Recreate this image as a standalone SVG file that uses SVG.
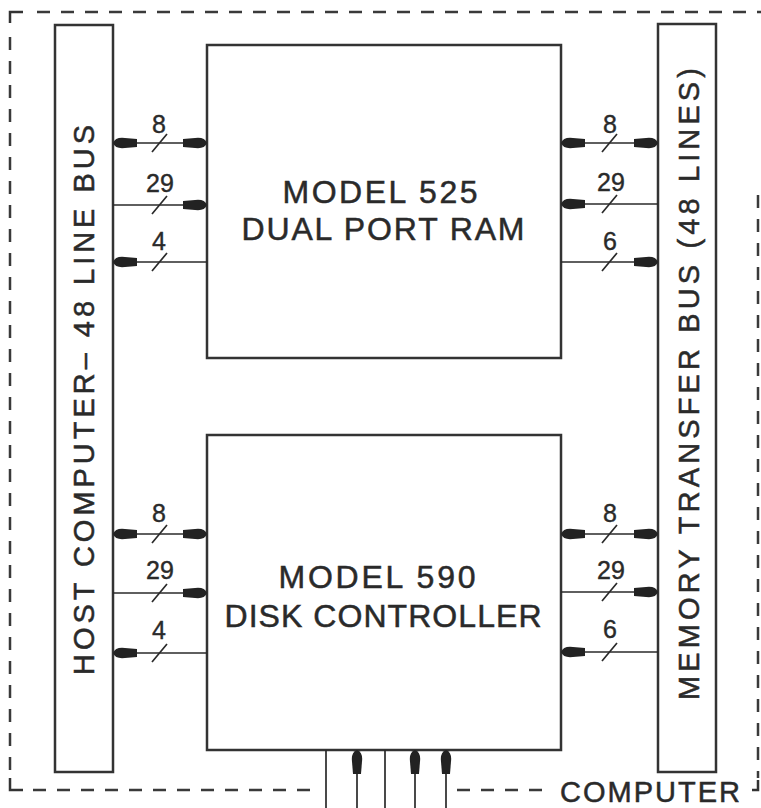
<svg xmlns="http://www.w3.org/2000/svg" width="761" height="808" viewBox="0 0 761 808">
<style>
.frame{fill:none;stroke:#333;stroke-width:2.5}
.dash{fill:none;stroke:#3a3a3a;stroke-width:2.5;stroke-dasharray:13 11}
.ln{fill:none;stroke:#2a2a2a;stroke-width:1.7}
.sl{fill:none;stroke:#2a2a2a;stroke-width:1.7}
.big{font-family:"Liberation Sans",Arial,sans-serif;font-size:32px;fill:#2a2a2a;stroke:#2a2a2a;stroke-width:0.5;text-anchor:middle}
.bus{font-family:"Liberation Sans",Arial,sans-serif;font-size:29px;fill:#2a2a2a;stroke:#2a2a2a;stroke-width:0.5;text-anchor:middle}
.num{font-family:"Liberation Sans",Arial,sans-serif;font-size:25px;fill:#2a2a2a;stroke:#2a2a2a;stroke-width:0.4;text-anchor:middle}
.one{marker-end:url(#ah)}
.two{marker-start:url(#ah);marker-end:url(#ah)}
</style>
<defs>
<marker id="ah" viewBox="0 -6 24 12" refX="24" refY="0" markerWidth="24" markerHeight="12" markerUnits="userSpaceOnUse" orient="auto-start-reverse">
<path d="M24,0 Q22,-5.2 15,-5.2 L0,-4 L0,4 L15,5.2 Q22,5.2 24,0 Z" fill="#222"/>
</marker>
</defs>
<rect width="761" height="808" fill="#fff"/>
<g id="boundary">
<path class="frame" d="M10,23 L10,12 L23,12"/>
<path class="dash" d="M37,12 L761,12"/>
<path class="dash" d="M10,37 L10,776"/>
<path class="frame" d="M10,778 L10,790 L23,790"/>
<path class="dash" d="M33,790 L316,790"/>
<path class="dash" d="M457,790 L545,790"/>
<path class="dash" d="M758,195 L758,778"/>
<path class="frame" d="M752,790 L758,790 L758,780"/>
<text class="bus" x="650" y="802" textLength="180" lengthAdjust="spacing">COMPUTER</text>
</g>
<g id="host-bus">
<rect class="frame" x="55" y="25" width="58" height="747"/>
<text class="bus" transform="translate(94,400) rotate(-90)" textLength="550" lengthAdjust="spacing">HOST COMPUTER– 48 LINE BUS</text>
</g>
<g id="memory-bus">
<rect class="frame" x="658" y="24" width="58" height="748"/>
<text class="bus" transform="translate(699,384) rotate(-90)" textLength="632" lengthAdjust="spacing">MEMORY TRANSFER BUS  (48 LINES)</text>
</g>
<g id="ram">
<rect class="frame" x="207" y="45" width="354" height="313"/>
<text class="big" x="380" y="203" textLength="195" lengthAdjust="spacing">MODEL  525</text>
<text class="big" x="383" y="240" textLength="283" lengthAdjust="spacing">DUAL  PORT  RAM</text>
</g>
<g id="disk">
<rect class="frame" x="207" y="435" width="354" height="315"/>
<text class="big" x="377" y="588" textLength="197" lengthAdjust="spacing">MODEL  590</text>
<text class="big" x="383" y="627" textLength="317" lengthAdjust="spacing">DISK  CONTROLLER</text>
</g>
<g id="connectors">
<line class="ln two" x1="113" y1="143" x2="207" y2="143"/>
<line class="ln one" x1="113" y1="205" x2="207" y2="205"/>
<line class="ln one" x1="207" y1="262" x2="113" y2="262"/>
<line class="ln two" x1="561" y1="143" x2="658" y2="143"/>
<line class="ln one" x1="658" y1="204" x2="561" y2="204"/>
<line class="ln one" x1="561" y1="262" x2="658" y2="262"/>
<line class="ln two" x1="113" y1="534" x2="207" y2="534"/>
<line class="ln one" x1="113" y1="593" x2="207" y2="593"/>
<line class="ln one" x1="207" y1="653" x2="113" y2="653"/>
<line class="ln two" x1="561" y1="534" x2="658" y2="534"/>
<line class="ln one" x1="561" y1="592" x2="658" y2="592"/>
<line class="ln one" x1="658" y1="652" x2="561" y2="652"/>
<line class="ln" x1="326" y1="750" x2="326" y2="808"/>
<line class="ln one" x1="357" y1="808" x2="357" y2="750"/>
<line class="ln" x1="385" y1="750" x2="385" y2="808"/>
<line class="ln one" x1="415" y1="808" x2="415" y2="750"/>
<line class="ln one" x1="446" y1="808" x2="446" y2="750"/>
<path class="sl" d="M152,152 L167,134 M152,214 L167,196 M152,271 L167,253 M602,152 L617,134 M602,213 L617,195 M602,271 L617,253 M152,543 L167,525 M152,602 L167,584 M152,662 L167,644 M602,543 L617,525 M602,601 L617,583 M602,661 L617,643"/>
<text class="num" x="159" y="133">8</text>
<text class="num" x="160" y="192">29</text>
<text class="num" x="159" y="250">4</text>
<text class="num" x="610" y="133">8</text>
<text class="num" x="611" y="191">29</text>
<text class="num" x="610" y="250">6</text>
<text class="num" x="159" y="522">8</text>
<text class="num" x="160" y="579">29</text>
<text class="num" x="159" y="639">4</text>
<text class="num" x="610" y="522">8</text>
<text class="num" x="611" y="579">29</text>
<text class="num" x="610" y="638">6</text>
</g>
</svg>
